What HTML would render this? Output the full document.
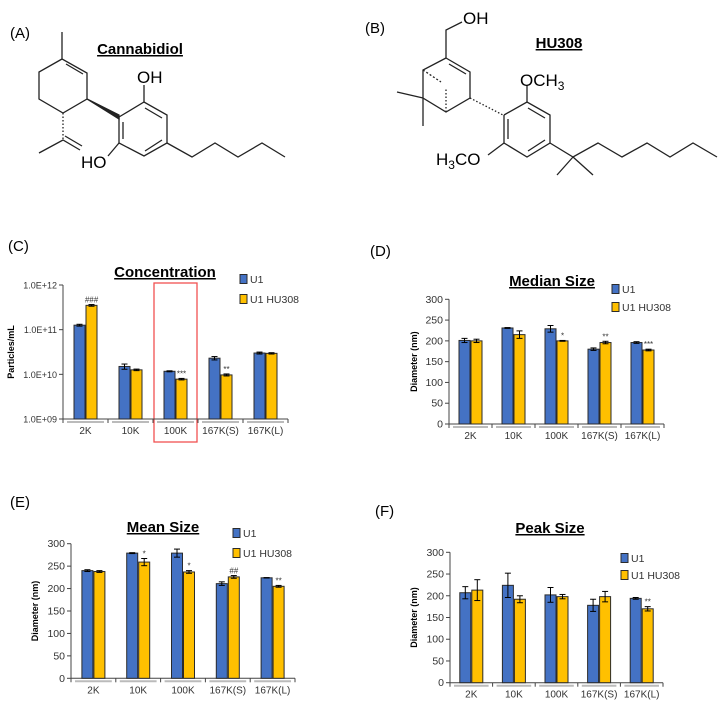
<!DOCTYPE html>
<html><head><meta charset="utf-8"><style>
html,body{margin:0;padding:0;background:#fff;}
svg{display:block;font-family:"Liberation Sans",sans-serif;}
</style></head><body>
<svg id="root" width="727" height="705" viewBox="0 0 727 705" xmlns="http://www.w3.org/2000/svg">
<g stroke="#222" stroke-width="1.3" fill="none">
<text x="10" y="38" font-size="15" fill="#000" stroke="none">(A)</text>
<text x="140" y="54" font-size="15" font-weight="bold" text-anchor="middle" text-decoration="underline" fill="#000" stroke="none">Cannabidiol</text>
<polyline points="62,32 62,59 87,73 87,99 63,113 39,99 39,72 62,59"/>
<line x1="66" y1="64" x2="83" y2="74"/>
<polygon points="87,99 119,115 119,119" fill="#222"/>
<polyline points="119,117 144,102 167,115 167,143 144,156 119,143 119,117"/>
<line x1="123" y1="122" x2="123" y2="139"/>
<line x1="145" y1="108" x2="162" y2="118"/>
<line x1="145" y1="151" x2="162" y2="140"/>
<line x1="144" y1="102" x2="144" y2="85"/>
<line x1="119" y1="143" x2="108" y2="156"/>
<polyline points="167,143 192,157 215,143 238,157 262,143 285,157"/>
<line x1="63" y1="113" x2="63" y2="140" stroke-dasharray="1.5,2"/>
<polyline points="39,153 63,140 80,150"/>
<line x1="65" y1="136" x2="82" y2="146"/>
<text x="137" y="83" font-size="17" fill="#000" stroke="none">OH</text>
<text x="81" y="168" font-size="17" fill="#000" stroke="none">HO</text>
</g>
<g stroke="#222" stroke-width="1.3" fill="none">
<text x="365" y="33" font-size="15" fill="#000" stroke="none">(B)</text>
<text x="559" y="48" font-size="15" font-weight="bold" text-anchor="middle" text-decoration="underline" fill="#000" stroke="none">HU308</text>
<polyline points="462,22 446,30 446,58"/>
<polyline points="446,58 470,72 470,98 446,112 423,98 423,70 446,58"/>
<line x1="449" y1="64" x2="466" y2="74"/>
<line x1="423" y1="70" x2="441" y2="82" stroke-dasharray="2,2"/>
<line x1="446" y1="112" x2="446" y2="88" stroke-dasharray="1.5,2"/>
<line x1="423" y1="98" x2="397" y2="92"/>
<line x1="423" y1="98" x2="423" y2="126"/>
<line x1="470" y1="98" x2="503" y2="115" stroke-dasharray="1.5,2"/>
<polyline points="504,115 527,102 550,115 550,143 527,157 504,143 504,115"/>
<line x1="508" y1="119" x2="508" y2="139"/>
<line x1="528" y1="108" x2="545" y2="118"/>
<line x1="528" y1="151" x2="545" y2="140"/>
<line x1="527" y1="102" x2="527" y2="85"/>
<line x1="504" y1="143" x2="488" y2="155"/>
<polyline points="550,143 573,157 598,143 622,157 647,143 670,157 693,143 717,157"/>
<line x1="573" y1="157" x2="557" y2="175"/>
<line x1="573" y1="157" x2="593" y2="175"/>
<text x="463" y="24" font-size="17" fill="#000" stroke="none">OH</text>
<text x="520" y="86" font-size="17" fill="#000" stroke="none">OCH<tspan font-size="12" dy="4">3</tspan></text>
<text x="436" y="165" font-size="17" fill="#000" stroke="none">H<tspan font-size="12" dy="4">3</tspan><tspan dy="-4">CO</tspan></text>
</g>
<text x="8" y="251" font-size="15" fill="#000">(C)</text>
<text x="370" y="256" font-size="15" fill="#000">(D)</text>
<text x="10" y="507" font-size="15" fill="#000">(E)</text>
<text x="375" y="516" font-size="15" fill="#000">(F)</text>
<rect x="154" y="283" width="43" height="159" fill="none" stroke="#f05050" stroke-width="1.3"/>
</svg>
<script>
const categories = ["2K","10K","100K","167K(S)","167K(L)"];
const concU1 = [1.26e11,1.5e10,1.17e10,2.3e10,3.0e10];
const concU1Err = [0.06e11,0.2e10,0.03e10,0.2e10,0.15e10];
const concHU = [3.5e11,1.26e10,7.8e9,9.7e9,2.95e10];
const concHUErr = [0.15e11,0.05e10,0.03e10,0.05e10,0.1e10];
const concAnn = ["###","","***","**",""];
const concTicks = [1e9,1e10,1e11,1e12];
const concTickLabels = ["1.0E+09","1.0E+10","1.0E+11","1.0E+12"];
const medianU1 = [201,231,229,180,196];
const medianU1Err = [5,1,8,3,2];
const medianHU = [200,215,200,196,178];
const medianHUErr = [4,9,1,3,2];
const medianAnn = ["","","*","**","***"];
const meanU1 = [240,279,279,211,224];
const meanU1Err = [2,1,9,4,0.5];
const meanHU = [238,259,237,226,205];
const meanHUErr = [2,8,3,3,2];
const meanAnn = ["","*","*","##","**"];
const peakU1 = [207,224,202,178,194];
const peakU1Err = [14,28,17,14,2];
const peakHU = [213,192,198,198,170];
const peakHUErr = [24,8,5,12,5];
const peakAnn = ["","","","","**"];
const linTicks = [0,50,100,150,200,250,300];

const NS="http://www.w3.org/2000/svg";
const root=document.getElementById('root');
function mk(tag,attrs,parent){const e=document.createElementNS(NS,tag);for(const k in attrs)e.setAttribute(k,attrs[k]);(parent||root).appendChild(e);return e;}

function chart(cfg){
  const g=mk('g',{});
  
  
  const x0=cfg.x0,x1=cfg.x1,yb=cfg.yb,yt=cfg.yt;
  const y=cfg.log
    ? v=>yb-(Math.log10(v)-Math.log10(cfg.min))/(Math.log10(cfg.max)-Math.log10(cfg.min))*(yb-yt)
    : v=>yb-(v-cfg.min)/(cfg.max-cfg.min)*(yb-yt);
  const gw=(x1-x0)/categories.length;
  const xc=i=>x0+gw*(i+0.5);
  // title
  const t=mk('text',{x:cfg.tx,y:cfg.ty,'font-size':15,'font-weight':'bold','text-anchor':'middle','text-decoration':'underline',fill:'#000'},g);
  t.textContent=cfg.title;
  
  
  // y axis
  const ya=mk('line',{x1:x0,y1:yt,x2:x0,y2:yb,stroke:'#444','stroke-width':1},g);
  
  
  cfg.ticks.forEach((tv,i)=>{
    const yy=y(tv);
    mk('line',{x1:x0-4,y1:yy,x2:x0,y2:yy,stroke:'#444','stroke-width':1},g);
    const tl=mk('text',{x:x0-6,y:yy+3.5,'font-size':cfg.log?9:10.5,'text-anchor':'end',fill:'#333'},g);
    tl.textContent=cfg.tickLabels?cfg.tickLabels[i]:String(tv);
    
    
  });
  const yl=mk('text',{x:0,y:0,'font-size':9,'font-weight':'bold','text-anchor':'middle',fill:'#000',transform:`translate(${x0-cfg.ytOff},${(yt+yb)/2}) rotate(-90)`},g);
  yl.textContent=cfg.ytitle;
  
  
  // x axis
  const xa=mk('line',{x1:x0,y1:yb,x2:x1,y2:yb,stroke:'#444','stroke-width':1},g);
  
  
  for(let i=0;i<=categories.length;i++){
    mk('line',{x1:x0+gw*i,y1:yb,x2:x0+gw*i,y2:yb+4,stroke:'#444','stroke-width':1},g);
  }
  categories.forEach((c,i)=>{
    mk('line',{x1:x0+gw*i+4,y1:yb+3,x2:x0+gw*(i+1)-4,y2:yb+3,stroke:'#bbb','stroke-width':2},g);
    const cl=mk('text',{x:xc(i),y:yb+15,'font-size':10,'text-anchor':'middle',fill:'#333'},g);
    cl.textContent=c;
    
    
  });
  // bars
  const series=[[cfg.a,cfg.aErr,'#4472C4',-11.5],[cfg.b,cfg.bErr,'#FFC000',0.5]];
  series.forEach((s,si)=>{
    s[0].forEach((v,i)=>{
      const bx=xc(i)+s[3],top=y(v);
      const r=mk('rect',{x:bx,y:top,width:11,height:yb-top,fill:s[2],stroke:'#2b2b2b','stroke-width':1},g);
      
      
      const e=s[1][i],cx=bx+5.5,ey1=y(v+e),ey2=y(Math.max(v-e,cfg.log?cfg.min:0));
      mk('line',{x1:cx,y1:ey1,x2:cx,y2:ey2,stroke:'#000','stroke-width':1},g);
      mk('line',{x1:cx-3,y1:ey1,x2:cx+3,y2:ey1,stroke:'#000','stroke-width':1},g);
      mk('line',{x1:cx-3,y1:ey2,x2:cx+3,y2:ey2,stroke:'#000','stroke-width':1},g);
      if(si===1&&cfg.ann[i]){
        const at=mk('text',{x:cx,y:ey1-2,'font-size':8,'text-anchor':'middle',fill:'#333'},g);
        at.textContent=cfg.ann[i];
        
        
      }
    });
  });
  // legend
  [['U1','#4472C4',cfg.ly1],['U1 HU308','#FFC000',cfg.ly2]].forEach((L,li)=>{
    const sq=mk('rect',{x:cfg.lx,y:L[2]-4.5,width:7,height:9,fill:L[1],stroke:'#2b2b2b','stroke-width':1},g);
    
    
    const lt=mk('text',{x:cfg.lx+10,y:L[2]+4,'font-size':10.5,fill:'#333'},g);
    lt.textContent=L[0];
    
    
  });
}

chart({name:'concentration-chart',title:'Concentration',tx:165,ty:277,x0:63,x1:288,yb:419,yt:285,log:true,min:1e9,max:1e12,
  ticks:concTicks,tickLabels:concTickLabels,ytitle:'Particles/mL',ytOff:49,
  a:concU1,aErr:concU1Err,b:concHU,bErr:concHUErr,ann:concAnn,lx:240,ly1:279,ly2:299});
chart({name:'median-size-chart',title:'Median Size',tx:552,ty:286,x0:449,x1:664,yb:424,yt:299.3,log:false,min:0,max:300,
  ticks:linTicks,ytitle:'Diameter (nm)',ytOff:32,
  a:medianU1,aErr:medianU1Err,b:medianHU,bErr:medianHUErr,ann:medianAnn,lx:612,ly1:289,ly2:307});
chart({name:'mean-size-chart',title:'Mean Size',tx:163,ty:532,x0:71,x1:295,yb:678.3,yt:543.7,log:false,min:0,max:300,
  ticks:linTicks,ytitle:'Diameter (nm)',ytOff:33,
  a:meanU1,aErr:meanU1Err,b:meanHU,bErr:meanHUErr,ann:meanAnn,lx:233,ly1:533,ly2:553});
chart({name:'peak-size-chart',title:'Peak Size',tx:550,ty:533,x0:450,x1:663,yb:682.7,yt:552.3,log:false,min:0,max:300,
  ticks:linTicks,ytitle:'Diameter (nm)',ytOff:33,
  a:peakU1,aErr:peakU1Err,b:peakHU,bErr:peakHUErr,ann:peakAnn,lx:621,ly1:558,ly2:575});
</script>
</body></html>
